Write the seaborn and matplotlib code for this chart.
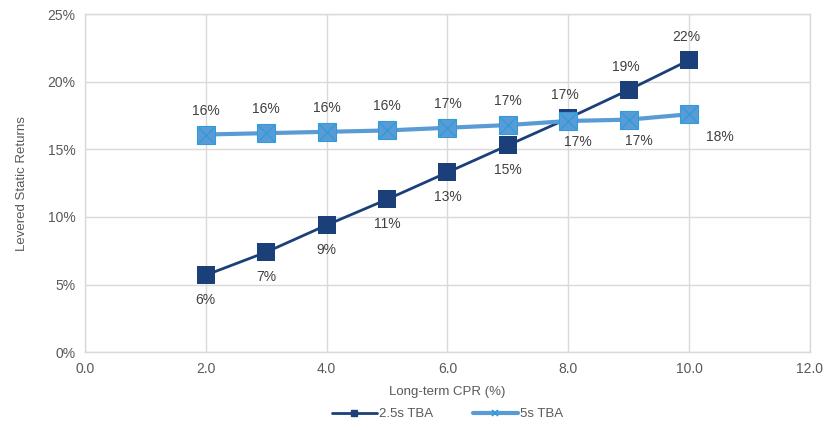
import matplotlib
matplotlib.use("Agg")
import matplotlib.pyplot as plt
from matplotlib.lines import Line2D
import seaborn as sns
import pandas as pd

# Long-term CPR (%) and levered static returns (%) for each TBA coupon
cpr = [2, 3, 4, 5, 6, 7, 8, 9, 10]
tba_25 = [5.7, 7.4, 9.4, 11.3, 13.3, 15.3, 17.3, 19.4, 21.6]
tba_5 = [16.1, 16.2, 16.3, 16.4, 16.6, 16.8, 17.1, 17.2, 17.6]
series_names = ["2.5s TBA", "5s TBA"]

NAVY = "#1B4079"
LIGHT = "#5B9BD5"
CROSS = "#2E9BDB"
GRID = "#D9D9D9"
TEXT = "#595959"
LABEL = "#404040"

sns.set_theme(style="white")
plt.rcParams["font.family"] = ["Liberation Sans", "DejaVu Sans"]

df = pd.DataFrame({
    "cpr": cpr * 2,
    "ret": tba_25 + tba_5,
    "series": [series_names[0]] * len(cpr) + [series_names[1]] * len(cpr),
})

fig = plt.figure(figsize=(8.29, 4.30), dpi=100)
ax = fig.add_axes([0.1025, 0.181, 0.8745, 0.786])

d25 = df[df.series == series_names[0]]
d5 = df[df.series == series_names[1]]

sns.lineplot(data=d25, x="cpr", y="ret", ax=ax, color=NAVY, linewidth=2.0,
             marker="s", markersize=13, markeredgewidth=0, legend=False, zorder=3)
sns.lineplot(data=d5, x="cpr", y="ret", ax=ax, color=LIGHT, linewidth=3.0,
             marker="s", markersize=13, markeredgewidth=0.8, markeredgecolor=CROSS,
             legend=False, zorder=4)
ax.scatter(d5.cpr, d5.ret, marker="x", s=130, color=CROSS, linewidths=1.0, zorder=5)

# value labels
lbl_kw = dict(textcoords="offset pixels", ha="center", va="center",
              fontsize=10, color=LABEL)
for x, y in zip(cpr, tba_25):
    if x < 8:
        off = (0, -25)
    else:
        off = (-3, 23)
    ax.annotate(f"{y:.0f}%", (x, y), xytext=off, **lbl_kw)
for x, y in zip(cpr, tba_5):
    if x < 8:
        off = (0, 24)
    elif x < 10:
        off = (10, -21)
    else:
        off = (31, -23)
    ax.annotate(f"{y:.0f}%", (x, y), xytext=off, **lbl_kw)

ax.set_xlim(0, 12)
ax.set_ylim(0, 25)
ax.set_xticks(range(0, 13, 2))
ax.set_xticklabels([f"{v:.1f}" for v in range(0, 13, 2)])
ax.set_yticks(range(0, 26, 5))
ax.set_yticklabels([f"{v}%" for v in range(0, 26, 5)])
ax.tick_params(axis="both", labelsize=10, colors=TEXT, length=0, pad=7)
ax.grid(True, color=GRID, linewidth=1.0)
ax.set_axisbelow(True)
for s in ax.spines.values():
    s.set_color(GRID)
    s.set_linewidth(1.0)

ax.set_xlabel("Long-term CPR (%)", fontsize=9.5, color=TEXT, labelpad=7)
ax.set_ylabel("Levered Static Returns", fontsize=9.5, color=TEXT, labelpad=14)

handles = [
    Line2D([], [], color=NAVY, linewidth=2.0, marker="s", markersize=5),
    Line2D([], [], color=LIGHT, linewidth=3.0, marker="x", markersize=5,
           markeredgecolor=CROSS, markeredgewidth=1.2),
]
fig.legend(handles, series_names, loc="lower center", bbox_to_anchor=(0.54, -0.005),
           ncol=2, frameon=False, fontsize=9.5, handlelength=3.4,
           columnspacing=3.0, handletextpad=0.2, labelcolor=TEXT)

fig.savefig("out.png", dpi=100)
